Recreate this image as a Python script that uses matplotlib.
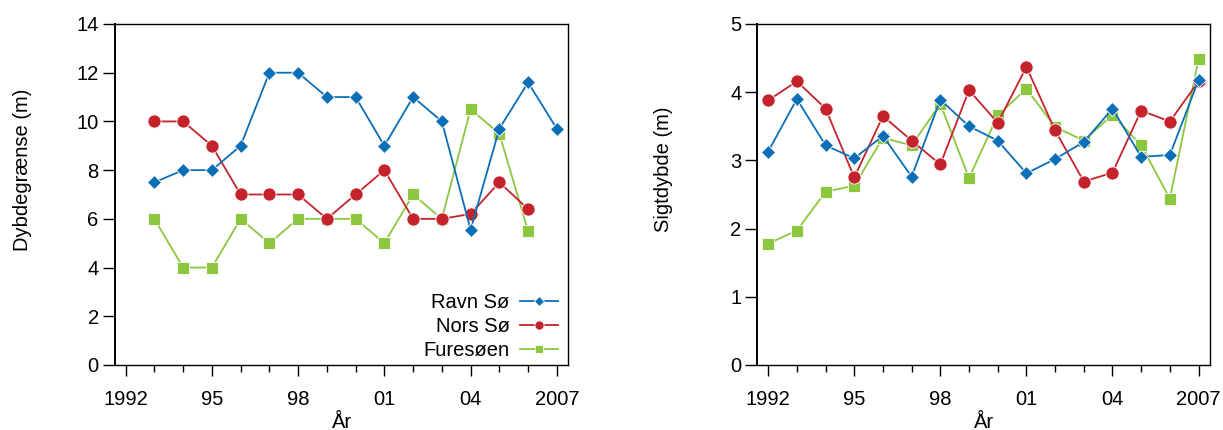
import matplotlib.pyplot as plt
from matplotlib.ticker import MultipleLocator, FixedLocator

plt.rcParams['font.family'] = ['Liberation Sans', 'DejaVu Sans']

# depth limit (m), 1993-2007
years_depth = [1993, 1994, 1995, 1996, 1997, 1998, 1999, 2000, 2001, 2002, 2003, 2004, 2005, 2006, 2007]
ravn_depth = [7.5, 8, 8, 9, 12, 12, 11, 11, 9, 11, 10, 5.55, 9.7, 11.6, 9.7]
nors_depth = [10, 10, 9, 7, 7, 7, 6, 7, 8, 6, 6, 6.2, 7.5, 6.4]
fure_depth = [6, 4, 4, 6, 5, 6, 6, 6, 5, 7, 6, 10.5, 9.5, 5.5]

# secchi depth (m), 1992-2007
years_secchi = [1992, 1993, 1994, 1995, 1996, 1997, 1998, 1999, 2000, 2001, 2002, 2003, 2004, 2005, 2006, 2007]
ravn_secchi = [3.13, 3.90, 3.22, 3.03, 3.36, 2.76, 3.89, 3.50, 3.29, 2.81, 3.02, 3.27, 3.76, 3.05, 3.08, 4.18]
nors_secchi = [3.88, 4.16, 3.76, 2.75, 3.65, 3.29, 2.94, 4.03, 3.55, 4.37, 3.44, 2.69, 2.82, 3.73, 3.57, 4.16]
fure_secchi = [1.78, 1.97, 2.54, 2.63, 3.33, 3.22, 3.83, 2.74, 3.66, 4.05, 3.49, 3.29, 3.67, 3.22, 2.44, 4.48]

major_years = [1992, 1995, 1998, 2001, 2004, 2007]
major_labels = ['1992', '95', '98', '01', '04', '2007']

blue = '#0B6FB8'
red = '#C4232B'
green = '#8DC63F'
fs = 14.5

fig = plt.figure(figsize=(12.23, 4.30), dpi=100)
ax1 = fig.add_axes([0.0938, 0.1512, 0.3709, 0.793])
ax2 = fig.add_axes([0.6192, 0.1512, 0.3702, 0.793])


def style_axis(ax):
    ax.set_xlim(1991.62, 2007.4)
    ax.xaxis.set_major_locator(FixedLocator(major_years))
    ax.xaxis.set_minor_locator(MultipleLocator(1))
    ax.set_xticklabels(major_labels)
    ax.tick_params(axis='x', which='major', direction='out', length=8, width=1, pad=10, labelsize=fs)
    ax.tick_params(axis='x', which='minor', direction='out', length=5, width=1)
    ax.tick_params(axis='y', which='major', direction='out', length=8.5, width=1, pad=3, labelsize=fs)
    for side in ['top', 'right', 'bottom']:
        ax.spines[side].set_linewidth(1.0)
    ax.spines['left'].set_linewidth(1.4)
    ax.set_xlabel('År', fontsize=fs, labelpad=3)


lw = 1.3
ax1.plot(years_depth, ravn_depth, color=blue, lw=lw, marker='D', ms=7.5,
         mec='white', mew=0.6, label='Ravn Sø', zorder=3)
ax1.plot(years_depth[:len(nors_depth)], nors_depth, color=red, lw=lw, marker='o', ms=9.5,
         mec='white', mew=0.6, label='Nors Sø', zorder=2)
ax1.plot(years_depth[:len(fure_depth)], fure_depth, color=green, lw=lw, marker='s', ms=8.5,
         mec='white', mew=0.6, label='Furesøen', zorder=1)
ax1.set_ylim(0, 14)
ax1.yaxis.set_major_locator(MultipleLocator(2))
style_axis(ax1)
ax1.set_ylabel('Dybdegrænse (m)', fontsize=fs)
ax1.yaxis.set_label_coords(-0.183, 0.572)
ax1.legend(loc='lower right', markerfirst=False, frameon=False, fontsize=fs,
           handlelength=1.9, markerscale=0.7, labelspacing=0.25, handletextpad=0.5,
           borderaxespad=0.0, bbox_to_anchor=(0.995, -0.01))

ax2.plot(years_secchi, ravn_secchi, color=blue, lw=lw, marker='D', ms=7.5,
         mec='white', mew=0.6, zorder=3)
ax2.plot(years_secchi, nors_secchi, color=red, lw=lw, marker='o', ms=9.5,
         mec='white', mew=0.6, zorder=2)
ax2.plot(years_secchi, fure_secchi, color=green, lw=lw, marker='s', ms=8.5,
         mec='white', mew=0.6, zorder=1)
ax2.set_ylim(0, 5)
ax2.yaxis.set_major_locator(MultipleLocator(1))
style_axis(ax2)
ax2.set_ylabel('Sigtdybde (m)', fontsize=fs)
ax2.yaxis.set_label_coords(-0.186, 0.575)

fig.savefig('out.png', dpi=100)
